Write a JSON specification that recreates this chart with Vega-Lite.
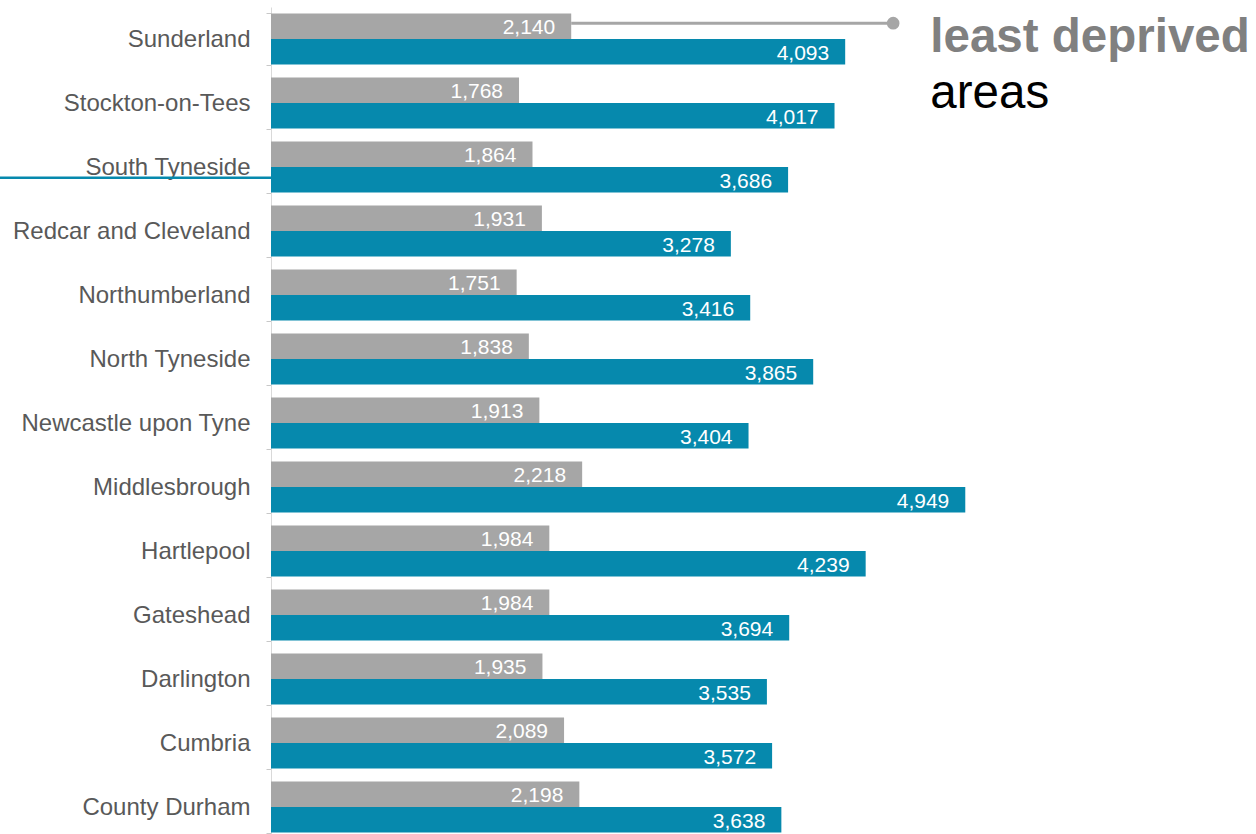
{
  "$schema": "https://vega.github.io/schema/vega-lite/v6.json",
  "autosize": "none",
  "width": 982,
  "height": 827,
  "padding": {"left": 271, "top": 7, "right": 3, "bottom": 0},
  "background": "white",
  "config": {"view": {"stroke": null}, "font": "Liberation Sans"},
  "datasets": {
    "bars": [
      {"area": "Sunderland", "group": "least", "value": 2140},
      {"area": "Sunderland", "group": "most", "value": 4093},
      {"area": "Stockton-on-Tees", "group": "least", "value": 1768},
      {"area": "Stockton-on-Tees", "group": "most", "value": 4017},
      {"area": "South Tyneside", "group": "least", "value": 1864},
      {"area": "South Tyneside", "group": "most", "value": 3686},
      {"area": "Redcar and Cleveland", "group": "least", "value": 1931},
      {"area": "Redcar and Cleveland", "group": "most", "value": 3278},
      {"area": "Northumberland", "group": "least", "value": 1751},
      {"area": "Northumberland", "group": "most", "value": 3416},
      {"area": "North Tyneside", "group": "least", "value": 1838},
      {"area": "North Tyneside", "group": "most", "value": 3865},
      {"area": "Newcastle upon Tyne", "group": "least", "value": 1913},
      {"area": "Newcastle upon Tyne", "group": "most", "value": 3404},
      {"area": "Middlesbrough", "group": "least", "value": 2218},
      {"area": "Middlesbrough", "group": "most", "value": 4949},
      {"area": "Hartlepool", "group": "least", "value": 1984},
      {"area": "Hartlepool", "group": "most", "value": 4239},
      {"area": "Gateshead", "group": "least", "value": 1984},
      {"area": "Gateshead", "group": "most", "value": 3694},
      {"area": "Darlington", "group": "least", "value": 1935},
      {"area": "Darlington", "group": "most", "value": 3535},
      {"area": "Cumbria", "group": "least", "value": 2089},
      {"area": "Cumbria", "group": "most", "value": 3572},
      {"area": "County Durham", "group": "least", "value": 2198},
      {"area": "County Durham", "group": "most", "value": 3638}
    ],
    "leader": [
      {"area": "Sunderland", "x1": 2140, "x2": 4435}
    ],
    "mostLeader": [
      {"area": "South Tyneside", "x1": -1935, "x2": 0}
    ],
    "annot1": [
      {"area": "Sunderland", "x": 4700, "text": "least deprived"}
    ],
    "annot2": [
      {"area": "Stockton-on-Tees", "x": 4700, "text": "areas"}
    ]
  },
  "layer": [
    {
      "data": {"name": "bars"},
      "mark": {"type": "bar"},
      "encoding": {
        "y": {
          "field": "area", "type": "nominal", "sort": "descending",
          "scale": {"range": [0, 832], "paddingInner": 0.203, "paddingOuter": 0.1015},
          "axis": {
            "title": null, "labelFontSize": 24, "labelColor": "#595959",
            "labelFont": "Liberation Sans", "labelPadding": 16, "labelLimit": 0,
            "tickSize": 5, "tickColor": "#c8c8c8", "domainColor": "#d9d9d9",
            "tickBand": "extent", "grid": false
          }
        },
        "yOffset": {"field": "group", "type": "nominal", "scale": {"domain": ["least", "most"], "paddingInner": 0, "paddingOuter": 0}},
        "x": {"field": "value", "type": "quantitative", "scale": {"domain": [0, 7000], "nice": false}, "axis": null},
        "color": {"field": "group", "type": "nominal", "scale": {"domain": ["least", "most"], "range": ["#a6a6a6", "#0689ad"]}, "legend": null}
      }
    },
    {
      "data": {"name": "bars"},
      "mark": {"type": "text", "align": "right", "baseline": "middle", "dx": -16, "dy": 2, "fontSize": 21, "color": "white", "font": "Liberation Sans"},
      "encoding": {
        "y": {"field": "area", "type": "nominal", "sort": "descending"},
        "yOffset": {"field": "group", "type": "nominal"},
        "x": {"field": "value", "type": "quantitative"},
        "text": {"field": "value", "type": "quantitative", "format": ","}
      }
    },
    {
      "data": {"name": "leader"},
      "mark": {"type": "rule", "color": "#a6a6a6", "strokeWidth": 3},
      "encoding": {
        "y": {"field": "area", "type": "nominal", "sort": "descending", "bandPosition": 0.19},
        "x": {"field": "x1", "type": "quantitative"},
        "x2": {"field": "x2"}
      }
    },
    {
      "data": {"name": "leader"},
      "mark": {"type": "point", "filled": true, "color": "#a6a6a6", "size": 160, "opacity": 1},
      "encoding": {
        "y": {"field": "area", "type": "nominal", "sort": "descending", "bandPosition": 0.19},
        "x": {"field": "x2", "type": "quantitative"}
      }
    },
    {
      "data": {"name": "mostLeader"},
      "mark": {"type": "rule", "color": "#0689ad", "strokeWidth": 2.5},
      "encoding": {
        "y": {"field": "area", "type": "nominal", "sort": "descending", "bandPosition": 0.71},
        "x": {"field": "x1", "type": "quantitative"},
        "x2": {"field": "x2"}
      }
    },
    {
      "data": {"name": "annot1"},
      "mark": {"type": "text", "align": "left", "baseline": "alphabetic", "fontSize": 47.5, "fontWeight": "bold", "color": "#808080", "font": "Liberation Sans"},
      "encoding": {
        "y": {"field": "area", "type": "nominal", "sort": "descending", "bandPosition": 0.75},
        "x": {"field": "x", "type": "quantitative"},
        "text": {"field": "text"}
      }
    },
    {
      "data": {"name": "annot2"},
      "mark": {"type": "text", "align": "left", "baseline": "alphabetic", "fontSize": 47.5, "color": "#000000", "font": "Liberation Sans"},
      "encoding": {
        "y": {"field": "area", "type": "nominal", "sort": "descending", "bandPosition": 0.6},
        "x": {"field": "x", "type": "quantitative"},
        "text": {"field": "text"}
      }
    }
  ]
}
